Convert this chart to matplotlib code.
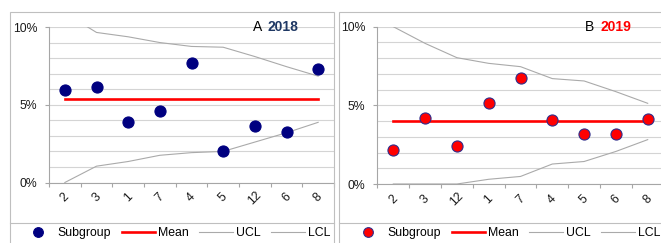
import matplotlib
matplotlib.use("Agg")
import matplotlib.pyplot as plt
from matplotlib.lines import Line2D
from matplotlib.patches import Rectangle
from matplotlib.ticker import FuncFormatter, MultipleLocator, FixedLocator

plt.rcParams['font.family'] = ['Liberation Sans', 'DejaVu Sans']

# panel A, 2018
cats_a = ['2', '3', '1', '7', '4', '5', '12', '6', '8']
sub_a = [5.98, 6.15, 3.87, 4.60, 7.70, 2.00, 3.63, 3.25, 7.27]
mean_a = 5.35
ucl_a = [10.9, 9.65, 9.37, 9.00, 8.75, 8.70, 8.10, 7.45, 6.84]
lcl_a = [0.0, 1.05, 1.35, 1.75, 1.92, 2.00, 2.60, 3.20, 3.87]

# panel B, 2019
cats_b = ['2', '3', '12', '1', '7', '4', '5', '6', '8']
sub_b = [2.16, 4.22, 2.44, 5.13, 6.74, 4.07, 3.20, 3.18, 4.15]
mean_b = 3.98
ucl_b = [10.0, 8.94, 8.03, 7.67, 7.46, 6.70, 6.55, 5.87, 5.13]
lcl_b = [0.0, 0.0, 0.0, 0.30, 0.48, 1.27, 1.43, 2.07, 2.82]

W, H = 661, 243
fig = plt.figure(figsize=(W / 100, H / 100), dpi=100)

FS = 8.8
AXC = '#A6A6A6'
GRID = '#D4D4D4'
LIMIT = '#AAAAAA'


def px_axes(x0, x1, y0, y1):
    # pixel box (top-left origin) -> figure axes
    return fig.add_axes([x0 / W, 1 - y1 / H, (x1 - x0) / W, (y1 - y0) / H])


def panel(ax, cats, sub, mean, ucl, lcl, face, edge):
    x = range(len(cats))
    ax.plot(x, ucl, color=LIMIT, lw=0.8, zorder=2)
    ax.plot(x, lcl, color=LIMIT, lw=0.8, zorder=2)
    ax.plot([0, len(cats) - 1], [mean, mean], color='#FF0000', lw=1.9, zorder=3)
    ax.plot(x, sub, ls='none', marker='o', ms=8, mfc=face, mec=edge, mew=0.8, zorder=4)

    ax.set_xlim(-0.5, len(cats) - 0.5)
    ax.set_ylim(0, 10)
    ax.yaxis.set_major_locator(FixedLocator([0, 5, 10]))
    ax.yaxis.set_minor_locator(MultipleLocator(1))
    ax.yaxis.set_major_formatter(FuncFormatter(lambda v, p: f'{v:.0f}%'))
    ax.grid(axis='y', which='both', color=GRID, lw=0.8)
    ax.set_axisbelow(True)
    ax.tick_params(axis='y', which='major', length=3, width=0.8, color=AXC,
                   labelsize=FS, pad=5.5, labelcolor='#1a1a1a')
    ax.tick_params(axis='y', which='minor', length=0)

    ax.set_xticks(list(x))
    ax.set_xticks([i - 0.5 for i in range(len(cats) + 1)], minor=True)
    ax.set_xticklabels(cats, rotation=45, ha='center', va='center')
    ax.tick_params(axis='x', which='major', length=0, labelsize=FS, pad=11,
                   labelcolor='#1a1a1a')
    ax.tick_params(axis='x', which='minor', length=3, width=0.8, color=AXC)

    for s in ['top', 'right']:
        ax.spines[s].set_visible(False)
    for s in ['left', 'bottom']:
        ax.spines[s].set_color(AXC)
        ax.spines[s].set_linewidth(0.8)


def frame(x0, x1, y0, y1, ydiv):
    fig.add_artist(Rectangle((x0 / W, 1 - y1 / H), (x1 - x0) / W, (y1 - y0) / H,
                             transform=fig.transFigure, fill=False,
                             ec='#BFBFBF', lw=0.8))
    fig.add_artist(Line2D([x0 / W, x1 / W], [1 - ydiv / H, 1 - ydiv / H],
                          transform=fig.transFigure, color='#BFBFBF', lw=0.8))


def legend(xleft, face, edge):
    handles = [
        Line2D([], [], ls='none', marker='o', ms=7, mfc=face, mec=edge, mew=0.8),
        Line2D([], [], color='#FF0000', lw=1.9),
        Line2D([], [], color=LIMIT, lw=0.8),
        Line2D([], [], color=LIMIT, lw=0.8),
    ]
    fig.legend(handles, ['Subgroup', 'Mean', 'UCL', 'LCL'], ncol=4,
               loc='center left', bbox_to_anchor=(xleft / W, 1 - 233 / H),
               frameon=False, fontsize=FS, handlelength=2.75, handletextpad=0.25,
               columnspacing=0.85, borderpad=0, borderaxespad=0)


# left panel
frame(9.5, 334, 12, 250, 222.5)
ax1 = px_axes(49, 334, 27, 182.5)
panel(ax1, cats_a, sub_a, mean_a, ucl_a, lcl_a, '#000080', '#000080')
legend(21, '#000080', '#000080')
fig.text(253 / W, 1 - 27 / H, 'A', fontsize=10, color='black', va='center')
fig.text(268 / W, 1 - 27 / H, '2018', fontsize=10, color='#1F3864',
         fontweight='bold', va='center')

# right panel
frame(339, 700, 12, 250, 222.5)
ax2 = px_axes(377.4, 663.6, 26.7, 184)
panel(ax2, cats_b, sub_b, mean_b, ucl_b, lcl_b, '#FF0000', '#2E2E8C')
legend(351, '#FF0000', '#2E2E8C')
fig.text(585 / W, 1 - 27 / H, 'B', fontsize=10, color='black', va='center')
fig.text(600.5 / W, 1 - 27 / H, '2019', fontsize=10, color='#FF0000',
         fontweight='bold', va='center')

fig.savefig('out.png', dpi=100, facecolor='white')
